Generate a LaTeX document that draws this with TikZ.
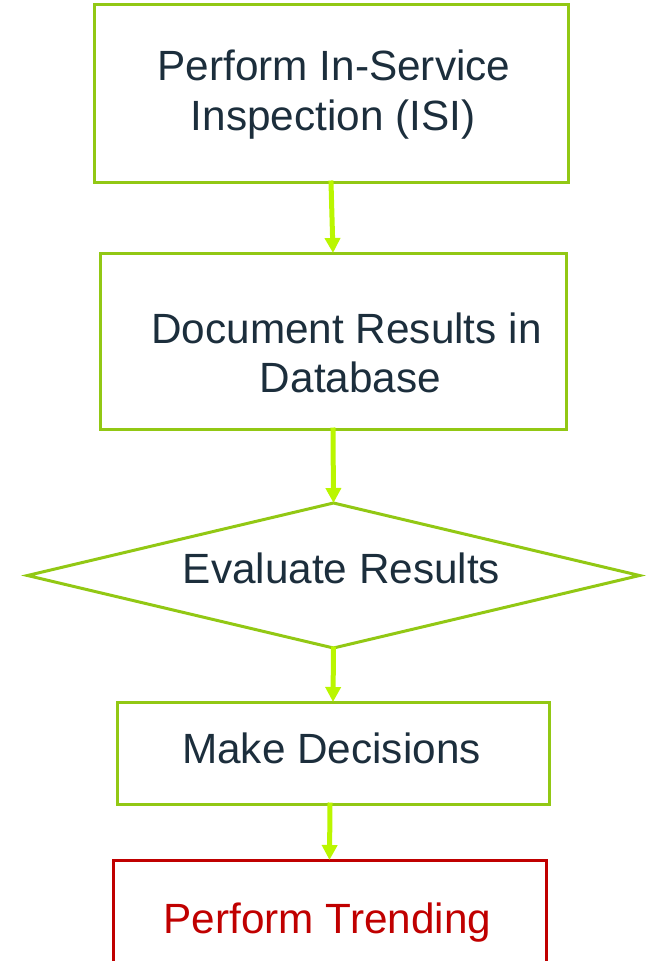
\documentclass[tikz,border=0pt]{standalone}
\usepackage{fontspec}
\setmainfont{Liberation Sans}
\usetikzlibrary{shapes.geometric,arrows.meta}

\definecolor{frame}{RGB}{146,200,20}
\definecolor{flow}{RGB}{186,246,0}
\definecolor{ink}{RGB}{28,46,60}
\definecolor{alert}{RGB}{192,0,0}

\tikzset{
  stepbox/.style={draw=frame, line width=3pt, rectangle, inner sep=0pt, outer sep=0pt},
  decisionbox/.style={draw=frame, line width=3pt, diamond, inner sep=0pt, outer sep=0pt},
  trendbox/.style={draw=alert, line width=3pt, rectangle, inner sep=0pt, outer sep=0pt},
  caption/.style={anchor=base, inner sep=0pt, text=ink, font=\fontsize{42.3}{50}\selectfont},
  flowarrow/.style={draw=flow, line width=5pt,
    -{Triangle[width=15pt,length=15pt]}, shorten <=-1.5pt},
}

\begin{document}
\begin{tikzpicture}[x=1pt, y=-1pt]
  \useasboundingbox (0,0) rectangle (647,961);
  \clip (0,0) rectangle (647,961);

  % process shapes
  \node[stepbox, minimum width=474pt, minimum height=178pt] (isi) at (331,93) {};
  \node[stepbox, minimum width=466pt, minimum height=176pt] (doc) at (333,341) {};
  \node[decisionbox, minimum width=612pt, minimum height=145pt] (eval) at (333.5,575.5) {};
  \node[stepbox, minimum width=432pt, minimum height=102pt] (decide) at (333,753) {};
  \node[trendbox, minimum width=433pt, minimum height=200pt] (trend) at (329.5,960) {};

  % labels
  \node[caption] (isiA) at (334,80) {Perform In-Service};
  \node[caption] (isiB) at (333,130) {Inspection (ISI)};
  \node[caption] (docA) at (346.5,343) {Document Results in};
  \node[caption] (docB) at (350.5,392) {Database};
  \node[caption] (evalT) at (341.5,583) {Evaluate Results};
  \node[caption] (decideT) at (331.5,763) {Make Decisions};
  \node[caption, text=alert] (trendT) at (327.5,933) {Perform Trending};

  % connectors
  \draw[flowarrow] (isi.south) -- (doc.north);
  \draw[flowarrow] (doc.south) -- (eval.north);
  \draw[flowarrow] (eval.south) -- (decide.north);
  \draw[flowarrow] ([xshift=-3pt]decide.south) -- (trend.north);
\end{tikzpicture}
\end{document}
